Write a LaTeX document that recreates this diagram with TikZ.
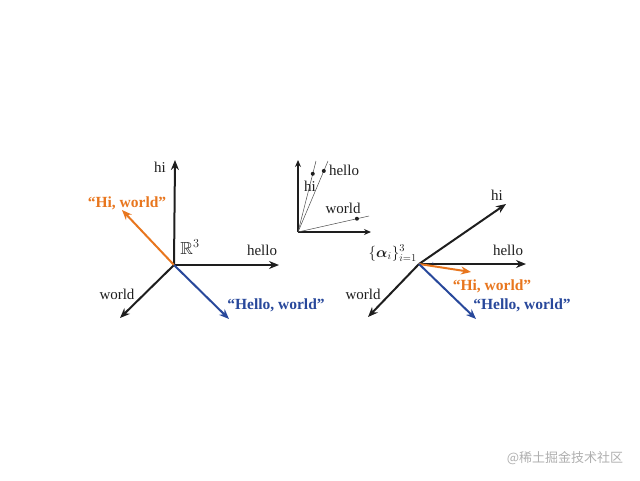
\RequirePackage{fix-cm}
\documentclass[tikz,border=0pt]{standalone}
\usepackage{fontspec}
\usepackage{amsmath,amssymb}
\setmainfont{Liberation Serif}
\newfontfamily\cjkfont{Noto Sans CJK SC}
\usetikzlibrary{arrows.meta,calc}
\definecolor{horange}{RGB}{232,118,30}
\definecolor{hblue}{RGB}{40,72,155}
\definecolor{axisgray}{RGB}{30,30,30}
\definecolor{wmgray}{RGB}{175,175,175}
\begin{document}
\begin{tikzpicture}[x=1pt,y=-1pt,
  axis/.style={draw=axisgray,line width=2pt,-{Stealth[length=10pt,width=8pt]}},
  smallaxis/.style={draw=axisgray,line width=1.5pt,-{Stealth[length=7pt,width=6pt]}},
  thinline/.style={draw=axisgray!80,line width=0.5pt},
  vecO/.style={draw=horange,line width=2pt,-{Stealth[length=10pt,width=8pt]}},
  vecB/.style={draw=hblue,line width=2pt,-{Stealth[length=10pt,width=8pt]}},
  lbl/.style={font=\fontsize{15}{17}\selectfont,text=axisgray,inner sep=0pt},
  olbl/.style={font=\fontsize{15.5}{17}\selectfont\bfseries,text=horange,inner sep=0pt},
  blbl/.style={font=\fontsize{15.5}{17}\selectfont\bfseries,text=hblue,inner sep=0pt},
  dot/.style={circle,fill=axisgray,inner sep=0pt,minimum size=4pt}]
\useasboundingbox (0,0) rectangle (640,480);

% ---------- left diagram ----------
\coordinate (LO) at (174,265);
\coordinate (Lhi) at (175,160);
\coordinate (Lhello) at (279,265);
\coordinate (Lworld) at (120,318);
\coordinate (Lor) at (122,210);
\coordinate (Lbl) at (229,319);
\draw[axis] (LO) -- (Lhi);
\draw[axis] (LO) -- (Lhello);
\draw[axis] (LO) -- (Lworld);
\draw[vecO] (LO) -- (Lor);
\draw[vecB] (LO) -- (Lbl);
\node[lbl] (Lhilab) at (160,167) {hi};
\node[lbl] (Lhellolab) at (262,250) {hello};
\node[lbl] (Lworldlab) at (117,294) {world};
\node[lbl,font=\fontsize{17.5}{19}\selectfont] (LR) at (190,247) {$\mathbb{R}^3$};
\node[olbl] (Lorlab) at (127,203) {``Hi, world''};
\node[blbl] (Lbllab) at (276,305) {``Hello, world''};

% ---------- middle diagram ----------
\coordinate (MO) at (298,232);
\coordinate (Mup) at (298,160);
\coordinate (Mright) at (371,232);
\coordinate (M1) at (316,161);
\coordinate (M2) at (328,161);
\coordinate (M3) at (369,216);
\draw[smallaxis] (MO) -- (Mup);
\draw[smallaxis] (MO) -- (Mright);
\draw[thinline] (MO) -- (M1);
\draw[thinline] (MO) -- (M2);
\draw[thinline] (MO) -- (M3);
\node[dot] (Mdhi) at ($(MO)!0.82!(M1)$) {};
\node[dot] (Mdhello) at ($(MO)!0.86!(M2)$) {};
\node[dot] (Mdworld) at ($(MO)!0.83!(M3)$) {};
\node[lbl] (Mhello) at (344,170) {hello};
\node[lbl] (Mhi) at (310,186) {hi};
\node[lbl] (Mworld) at (343,208) {world};

% ---------- right diagram ----------
\coordinate (RO) at (419,264);
\coordinate (Rhi) at (506,204);
\coordinate (Rhello) at (526,264);
\coordinate (Rworld) at (368,317);
\coordinate (Ror) at (471,272);
\coordinate (Rbl) at (476,319);
\draw[axis] (RO) -- (Rhi);
\draw[axis] (RO) -- (Rhello);
\draw[axis] (RO) -- (Rworld);
\draw[vecO] (RO) -- (Ror);
\draw[vecB] (RO) -- (Rbl);
\draw[draw=hblue,line width=0.6pt] ($(RO)+(14,0)$) arc[start angle=0,end angle=-9,radius=14];
\node[lbl] (Rhilab) at (497,195) {hi};
\node[lbl] (Rhellolab) at (508,250) {hello};
\node[lbl] (Rworldlab) at (363,294) {world};
\node[lbl,anchor=east] (Ralpha) at (417,253) {$\{\boldsymbol{\alpha}_i\}_{i=1}^3$};
\node[olbl] (Rorlab) at (492,286) {``Hi, world''};
\node[blbl] (Rbllab) at (522,305) {``Hello, world''};

% ---------- watermark ----------
\node[font=\cjkfont\fontsize{13}{15}\selectfont,text=wmgray,inner sep=0pt] (wm) at (565,458) {@稀土掘金技术社区};
\end{tikzpicture}
\end{document}
